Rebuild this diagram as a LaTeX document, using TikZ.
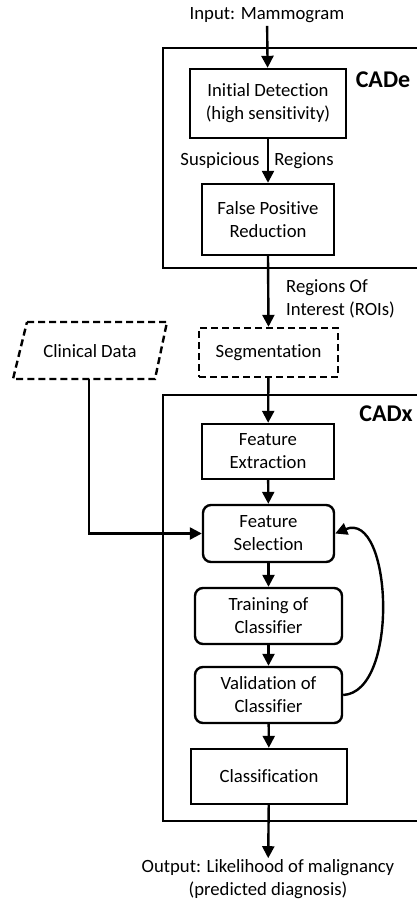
\documentclass[tikz,border=0pt]{standalone}
\usepackage{fontspec}
\setmainfont{Carlito}[Ligatures={NoCommon}]
\usetikzlibrary{arrows.meta}
\begin{document}
\begin{tikzpicture}[x=1pt,y=-1pt,
  every node/.style={font=\fontsize{18.7}{23}\selectfont, align=center, inner sep=0pt},
  box/.style={draw, line width=2.4pt, minimum width=#1},
  rbox/.style={box=#1, rounded corners=8pt},
  frame/.style={draw, line width=2.4pt},
  arr/.style={line width=2.4pt, line join=miter, -{Triangle[length=12pt,width=12pt]}},
  lbl/.style={font=\fontsize{24}{28}\bfseries\selectfont}]
\useasboundingbox (0,0) rectangle (417,904);
\clip (0,0) rectangle (417,904);
% frames
\draw[frame] (163,48) rectangle (440,268);
\draw[frame] (163,395) rectangle (440,821);
\node[lbl] (cade) at (383,80) {CADe};
\node[lbl] (cadx) at (386,414) {CADx};
% nodes
\node (input) at (267,15) [inner sep=3pt] {Input: Mammogram};
\node[box=156pt, minimum height=69pt] (init) at (268,103.5) {Initial Detection\\(high sensitivity)};
\node[box=132pt, minimum height=71pt] (fpr) at (268,219.5) {False Positive\\Reduction};
\node (susp) at (220,161) {Suspicious};
\node (regs) at (304,161) {Regions};
\node[anchor=west] (roi) at (286,299) [align=left] {Regions Of\\Interest (ROIs)};
\node[box=139pt, minimum height=49pt, dash pattern=on 7pt off 4pt] (seg) at (268.5,352.5) {Segmentation};
\node (clin) at (90,351) {Clinical Data};
\draw[line width=2.4pt, dash pattern=on 7pt off 4pt] (27,322) -- (167,322) -- (155,379) -- (13,379) -- cycle;
\coordinate (clinb) at (89,379);
\node[box=132pt, minimum height=55pt] (fext) at (268,451.5) {Feature\\Extraction};
\node[rbox=131pt, minimum height=57pt] (fsel) at (268.5,533.5) {Feature\\Selection};
\node[rbox=147pt, minimum height=56pt] (train) at (268.5,616) {Training of\\Classifier};
\node[rbox=147pt, minimum height=56pt] (valid) at (268.5,695) {Validation of\\Classifier};
\node[box=156pt, minimum height=55pt] (class) at (269,776.5) {Classification};
\node (out) at (268,879) [inner sep=1pt] {Output: Likelihood of malignancy\\(predicted diagnosis)};
% connectors
\draw[arr] (input) -- (init);
\draw[arr] (init) -- (fpr);
\draw[arr] (fpr.south) -- (seg.north);
\draw[arr] (seg) -- (fext);
\draw[arr] (fext) -- (fsel);
\draw[arr] (fsel) -- (train);
\draw[arr] (train) -- (valid);
\draw[arr] (valid) -- (class);
\draw[arr] (class) -- (out);
\draw[arr] (clinb) |- (fsel.west);
\draw[arr] (valid.east) .. controls (400,692) and (392,510) .. (fsel.east);
\end{tikzpicture}
\end{document}
